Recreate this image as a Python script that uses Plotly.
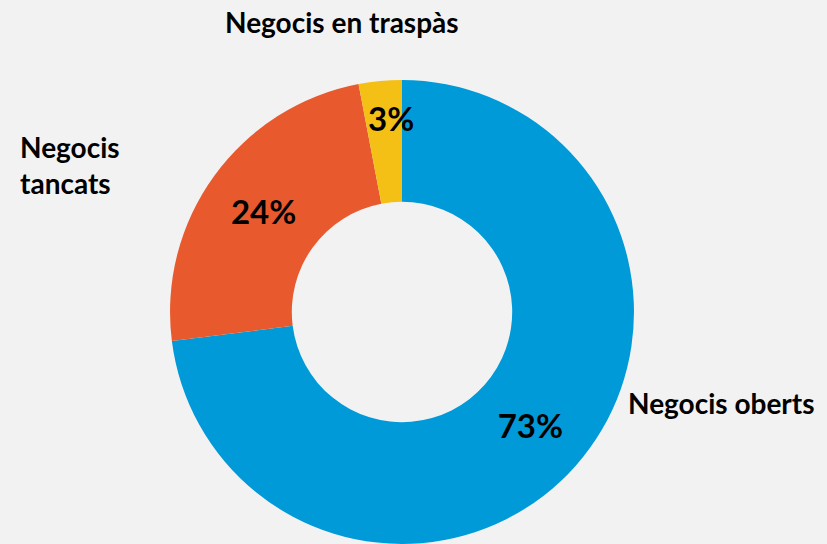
import plotly.graph_objects as go

# donut data
categories = ['Negocis oberts', 'Negocis tancats', 'Negocis en traspàs']
shares = [73, 24, 3]
colors = ['#009ad8', '#e85a2d', '#f4c016']

pct_font = dict(family='Lato', size=33, color='black', weight='bold')
label_font = dict(family='Lato', size=28, color='black', weight='bold')

# the thin slice gets its % as an annotation, plotly pushes it too far out
fig = go.Figure(go.Pie(
    labels=categories,
    values=shares,
    hole=0.475,
    sort=False,
    direction='clockwise',
    rotation=0,
    marker=dict(colors=colors, line=dict(width=0)),
    texttemplate=['%{value}%', '%{value}%', ''],
    textposition='inside',
    insidetextorientation='horizontal',
    textfont=pct_font,
    showlegend=False,
    domain=dict(x=[0.2056, 0.7666], y=[0.0, 0.853]),
))

fig.add_annotation(x=0.473, y=0.783, xref='paper', yref='paper', text=f'{shares[2]}%',
                   showarrow=False, font=pct_font, xanchor='center', yanchor='middle')

fig.add_annotation(x=0.413, y=0.96, xref='paper', yref='paper', text=categories[2],
                   showarrow=False, font=label_font, xanchor='center', yanchor='middle')
fig.add_annotation(x=0.022, y=0.697, xref='paper', yref='paper', text='Negocis<br>tancats',
                   showarrow=False, font=label_font, xanchor='left', yanchor='middle', align='left')
fig.add_annotation(x=0.757, y=0.259, xref='paper', yref='paper', text=categories[0],
                   showarrow=False, font=label_font, xanchor='left', yanchor='middle')

fig.update_layout(
    width=827, height=544,
    margin=dict(l=0, r=0, t=0, b=0),
    paper_bgcolor='#f2f2f2',
    plot_bgcolor='#f2f2f2',
    uniformtext=dict(minsize=33, mode='show'),
)

# drop the page's default body margin so the figure sits flush
fig.write_html('out.html', config={'displayModeBar': False},
               post_script="document.body.style.margin='0';")
